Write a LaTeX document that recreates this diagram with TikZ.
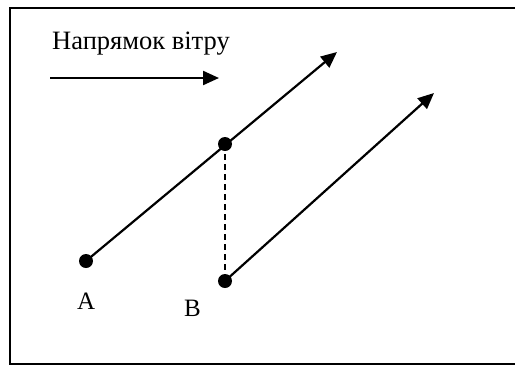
\documentclass[tikz,border=0pt]{standalone}
\usepackage{fontspec}
\setmainfont{Liberation Serif}
\usetikzlibrary{arrows.meta}
\begin{document}
\begin{tikzpicture}[x=1pt,y=-1pt,
  ln/.style={line width=2.2pt},
  arr/.style={ln,-{Triangle[length=16pt,width=14pt]}},
  dot/.style={circle,fill=black,inner sep=0pt,minimum size=14pt},
  lbl/.style={font=\fontsize{25}{30}\selectfont,inner sep=0pt,anchor=base west}]
\useasboundingbox (0,0) rectangle (515,365);
\draw[line width=2pt] (525,8) -- (10,8) -- (10,364) -- (525,364);
\node[lbl,font=\fontsize{26.5}{32}\selectfont] (title) at (52,49) {Напрямок вітру};
\coordinate (w1) at (50,78);
\coordinate (w2) at (219,78);
\draw[arr] (w1) -- (w2);
\node[dot] (A) at (86,261) {};
\node[dot] (C) at (225,144) {};
\node[dot] (B) at (225,281) {};
\coordinate (t1) at (337,52);
\coordinate (t2) at (434,93);
\draw[arr] (A.center) -- (t1);
\draw[arr] (B.center) -- (t2);
\draw[ln,dash pattern=on 6pt off 4pt] (C.center) -- (B.center);
\node[lbl] (la) at (77,309) {A};
\node[lbl] (lb) at (184,316) {B};
\end{tikzpicture}
\end{document}
